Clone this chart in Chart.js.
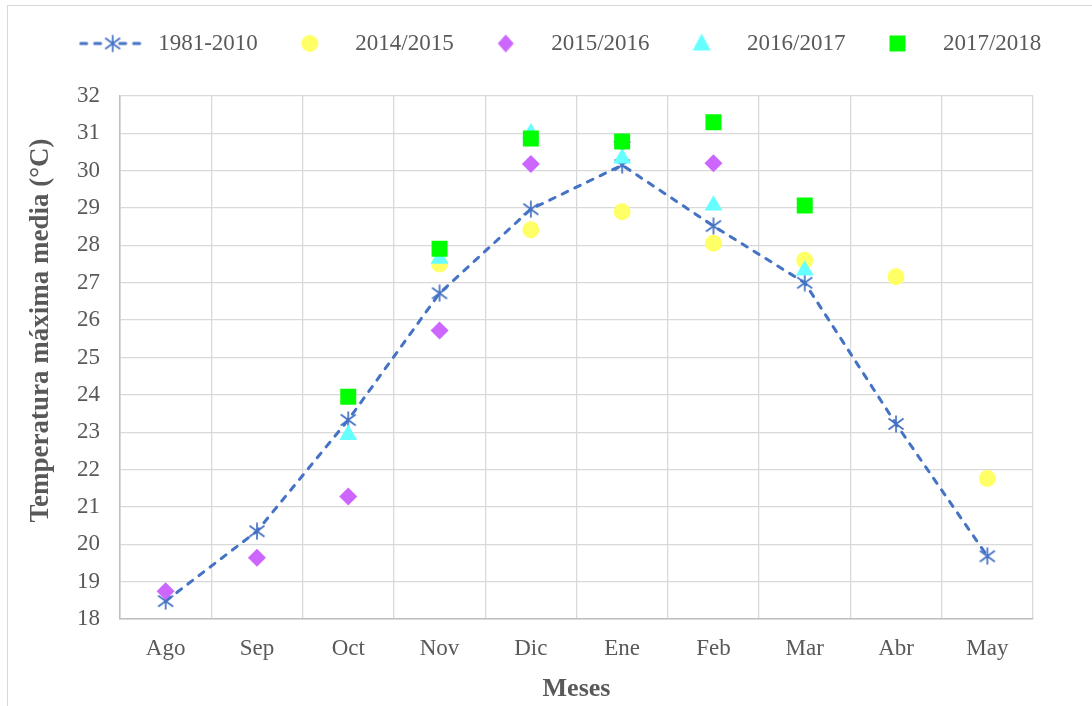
<!DOCTYPE html>
<html>
<head>
<meta charset="utf-8">
<script src="https://cdn.jsdelivr.net/npm/chart.js@4.4.1/dist/chart.umd.min.js"></script>
<style>
  html, body { margin: 0; padding: 0; background: #fff; }
  #wrap { position: relative; width: 1092px; height: 706px; overflow: hidden; }
  #frame { position: absolute; left: 7px; top: 5px; width: 1200px; height: 800px; border: 1px solid #d9d9d9; }
  #chart { position: absolute; left: 0; top: 0; }
</style>
</head>
<body>
<div id="wrap">
  <div id="frame"></div>
  <canvas id="chart" width="1092" height="706"></canvas>
</div>
<script>
// months on the x axis
const months = ["Ago", "Sep", "Oct", "Nov", "Dic", "Ene", "Feb", "Mar", "Abr", "May"];

// series values (°C)
const normal8110 = [18.48, 20.35, 23.33, 26.72, 28.97, 30.15, 28.52, 27.0, 23.22, 19.68];
const season1415 = [null, null, null, 27.5, 28.42, 28.9, 28.06, 27.6, 27.16, 21.76];
const season1516 = [18.74, 19.64, 21.28, 25.72, 30.18, 30.77, 30.2, null, null, null];
const season1617 = [null, null, 22.93, 27.65, 31.0, 30.33, 29.07, 27.33, null, null];
const season1718 = [null, null, 23.95, 27.91, 30.86, 30.78, 31.3, 29.07, null, null];

const seriesNames = ["1981-2010", "2014/2015", "2015/2016", "2016/2017", "2017/2018"];

// y axis range
const yMin = 18;
const yMax = 32;
const yStep = 1;

const BLUE = "#4472C4";
const YELLOW = "#FFFF66";
const PURPLE = "#CC66FF";
const CYAN = "#66FFFF";
const GREEN = "#00FF00";
const TEXT = "#595959";

// asterisk marker used by Excel (X + vertical bar)
function starCanvas() {
  const c = document.createElement("canvas");
  c.width = 18;
  c.height = 18;
  const g = c.getContext("2d");
  g.strokeStyle = BLUE;
  g.lineWidth = 1.7;
  g.beginPath();
  g.moveTo(9, 0.5); g.lineTo(9, 17.5);
  g.moveTo(1.5, 3.5); g.lineTo(16.5, 14.5);
  g.moveTo(16.5, 3.5); g.lineTo(1.5, 14.5);
  g.stroke();
  return c;
}

// legend symbols, all the same box so the spacing stays even
function legendCanvas(kind) {
  const c = document.createElement("canvas");
  c.width = 68;
  c.height = 24;
  const g = c.getContext("2d");
  const cx = 34, cy = 12;
  if (kind === "line") {
    g.strokeStyle = BLUE;
    g.lineWidth = 3;
    g.lineCap = "round";
    g.setLineDash([6, 8]);
    g.beginPath();
    g.moveTo(2, cy); g.lineTo(27, cy);
    g.moveTo(41, cy); g.lineTo(66, cy);
    g.stroke();
    g.setLineDash([]);
    g.drawImage(starCanvas(), cx - 9, cy - 9);
  } else if (kind === "circle") {
    g.fillStyle = YELLOW;
    g.beginPath(); g.arc(cx, cy, 8.5, 0, Math.PI * 2); g.fill();
  } else if (kind === "diamond") {
    g.fillStyle = PURPLE;
    g.beginPath();
    g.moveTo(cx, cy - 9); g.lineTo(cx + 8, cy); g.lineTo(cx, cy + 9); g.lineTo(cx - 8, cy);
    g.closePath(); g.fill();
  } else if (kind === "triangle") {
    g.fillStyle = CYAN;
    g.beginPath();
    g.moveTo(cx, cy - 10); g.lineTo(cx + 9, cy + 7); g.lineTo(cx - 9, cy + 7);
    g.closePath(); g.fill();
  } else {
    g.fillStyle = GREEN;
    g.fillRect(cx - 8, cy - 8, 16, 16);
  }
  return c;
}

const legendSymbols = ["line", "circle", "diamond", "triangle", "square"].map(legendCanvas);

// give the legend the extra room Excel leaves above the plot
const legendSpace = {
  id: "legendSpace",
  afterInit(chart) {
    const legend = chart.legend;
    const fit = legend.fit;
    legend.fit = function () {
      fit.call(this);
      this.height += 31;
    };
  },
};

function scatterSet(label, data, style, radius, color, order) {
  return {
    label,
    data,
    showLine: false,
    pointStyle: style,
    pointRadius: radius,
    pointHoverRadius: radius,
    pointBackgroundColor: color,
    pointBorderWidth: 0,
    backgroundColor: color,
    borderColor: color,
    order,
  };
}

const ctx = document.getElementById("chart");

new Chart(ctx, {
  type: "line",
  data: {
    labels: months,
    datasets: [
      {
        label: seriesNames[0],
        data: normal8110,
        borderColor: BLUE,
        backgroundColor: BLUE,
        borderWidth: 3,
        borderDash: [6, 8],
        borderCapStyle: "round",
        tension: 0,
        pointStyle: starCanvas(),
        pointRadius: 8,
        order: 5,
      },
      scatterSet(seriesNames[1], season1415, "circle", 8.5, YELLOW, 4),
      scatterSet(seriesNames[2], season1516, "rectRot", 9, PURPLE, 3),
      scatterSet(seriesNames[3], season1617, "triangle", 10.3, CYAN, 2),
      scatterSet(seriesNames[4], season1718, "rect", 11.3, GREEN, 1),
    ],
  },
  options: {
    responsive: false,
    animation: false,
    events: [],
    layout: { padding: { left: 28, right: 0, top: 14, bottom: 0 } },
    plugins: {
      tooltip: { enabled: false },
      legend: {
        position: "top",
        labels: {
          usePointStyle: true,
          pointStyleWidth: 68,
          padding: 18,
          color: TEXT,
          font: { family: "Liberation Serif", size: 23 },
          generateLabels: (chart) =>
            chart.data.datasets.map((ds, i) => ({
              text: ds.label,
              pointStyle: legendSymbols[i],
              fillStyle: ds.backgroundColor,
              strokeStyle: ds.borderColor,
              lineWidth: 0,
              fontColor: TEXT,
              hidden: false,
              datasetIndex: i,
            })),
        },
      },
    },
    scales: {
      x: {
        offset: true,
        grid: { offset: true, color: "#d9d9d9", lineWidth: 1.3, drawTicks: false },
        border: { color: "#bfbfbf", width: 1.5 },
        ticks: {
          color: TEXT,
          padding: 16,
          font: { family: "Liberation Serif", size: 23 },
        },
        title: {
          display: true,
          text: "Meses",
          color: TEXT,
          font: { family: "Liberation Serif", size: 26, weight: "bold" },
          padding: { top: 0, bottom: 1 },
        },
        afterFit: (scale) => {
          scale.height = 87;
        },
      },
      y: {
        min: yMin,
        max: yMax,
        grid: { color: "#d9d9d9", lineWidth: 1.3, drawTicks: false },
        border: { color: "#bfbfbf", width: 1.5 },
        ticks: {
          stepSize: yStep,
          color: TEXT,
          padding: 20,
          font: { family: "Liberation Serif", size: 23 },
        },
        title: {
          display: true,
          // leading spaces nudge the centred title up, as in the original
          text: "        Temperatura máxima media (°C)",
          color: TEXT,
          font: { family: "Liberation Serif", size: 27, weight: "bold", lineHeight: 1 },
          padding: { top: 0, bottom: 0 },
        },
        afterFit: (scale) => {
          scale.width = 92;
        },
      },
      // empty right axis, only keeps the right margin
      yRight: {
        position: "right",
        min: yMin,
        max: yMax,
        grid: { display: false, drawTicks: false },
        border: { display: false },
        ticks: { display: false },
        afterFit: (scale) => {
          scale.width = 59;
        },
      },
    },
  },
  plugins: [legendSpace],
});
</script>
</body>
</html>
